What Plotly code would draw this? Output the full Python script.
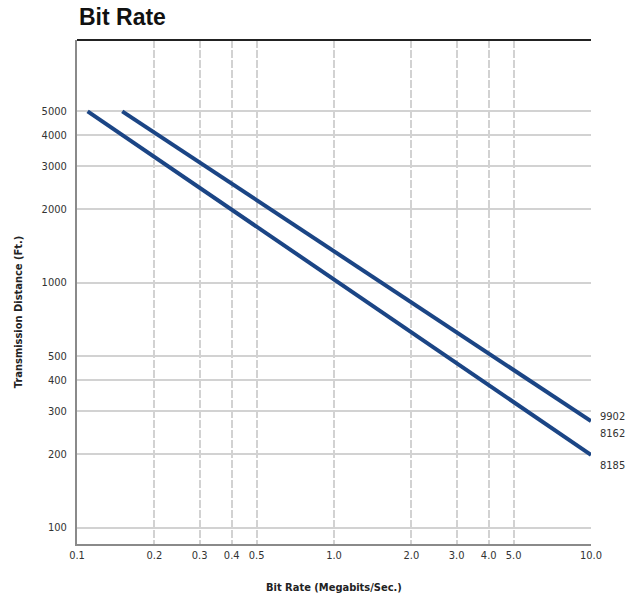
import plotly.graph_objects as go
import math

# Data
bit_rate_9902 = [0.15, 10.0]
dist_9902 = [5000, 272]
bit_rate_8185 = [0.11, 10.0]
dist_8185 = [5000, 198]

x_tickvals = [0.1, 0.2, 0.3, 0.4, 0.5, 1, 2, 3, 4, 5, 10]
x_ticktext = ["0.1", "0.2", "0.3", "0.4", "0.5", "1.0", "2.0", "3.0", "4.0", "5.0", "10.0"]
y_tickvals = [100, 200, 300, 400, 500, 1000, 2000, 3000, 4000, 5000]
y_ticktext = ["100", "200", "300", "400", "500", "1000", "2000", "3000", "4000", "5000"]

line_labels = ["9902", "8162", "8185"]

LINE_COLOR = "#1b4585"
FONT_NARROW = "DejaVu Sans Condensed, Liberation Sans Narrow, Arial Narrow, sans-serif"

fig = go.Figure()
fig.add_trace(go.Scatter(x=bit_rate_9902, y=dist_9902, mode="lines",
                         line=dict(color=LINE_COLOR, width=4), showlegend=False, hoverinfo="skip"))
fig.add_trace(go.Scatter(x=bit_rate_8185, y=dist_8185, mode="lines",
                         line=dict(color=LINE_COLOR, width=4), showlegend=False, hoverinfo="skip"))

W, H = 626, 601
L, R, T, B = 77, 35, 40, 57

fig.update_layout(
    width=W, height=H,
    margin=dict(l=L, r=R, t=T, b=B, pad=0),
    paper_bgcolor="white", plot_bgcolor="white",
    font=dict(family=FONT_NARROW, size=11, color="#333333"),
    xaxis=dict(type="log", range=[math.log10(0.1), math.log10(10)],
               tickvals=x_tickvals, ticktext=x_ticktext,
               showgrid=True, gridcolor="#d2d2d2", gridwidth=1.5, griddash="8px,2px",
               showline=True, linecolor="#8a8a8a", linewidth=2,
               ticks="", zeroline=False, fixedrange=True),
    yaxis=dict(type="log", range=[1.933, 3.99],
               tickvals=y_tickvals, ticktext=y_ticktext,
               showgrid=True, gridcolor="#d2d2d2", gridwidth=1.5,
               showline=True, linecolor="#8a8a8a", linewidth=2,
               ticks="", zeroline=False, fixedrange=True, ticklabelstandoff=6),
)

# top border
fig.add_shape(type="line", xref="paper", yref="paper", x0=0, x1=1, y0=1, y1=1,
              line=dict(color="#222222", width=2))

# title
fig.add_annotation(text="<b>Bit Rate</b>", xref="paper", yref="paper",
                   x=0.0, y=1.0, xanchor="left", yanchor="bottom", yshift=8,
                   showarrow=False, font=dict(family="Liberation Sans, Arial, sans-serif", size=23, color="#111111"))

# axis titles
fig.add_annotation(text="<b>Bit Rate (Megabits/Sec.)</b>", xref="paper", yref="paper",
                   x=0.5, y=0, yshift=-43, xanchor="center", yanchor="middle",
                   showarrow=False, font=dict(family=FONT_NARROW, size=11, color="#222222"))
fig.add_annotation(text="<b>Transmission Distance (Ft.)</b>", xref="paper", yref="paper",
                   x=0, xshift=-59, y=0.46, xanchor="center", yanchor="middle", textangle=-90,
                   showarrow=False, font=dict(family=FONT_NARROW, size=11, color="#222222"))

# right-side labels
label_y = [(544 - 416) / 504, (544 - 433) / 504, (544 - 465) / 504]
for txt, yy in zip(line_labels, label_y):
    fig.add_annotation(text=txt, xref="paper", yref="paper", x=1, xshift=7, y=yy,
                       xanchor="left", yanchor="middle", showarrow=False,
                       font=dict(family=FONT_NARROW, size=11, color="#333333"))

fig.write_html("out.html")
